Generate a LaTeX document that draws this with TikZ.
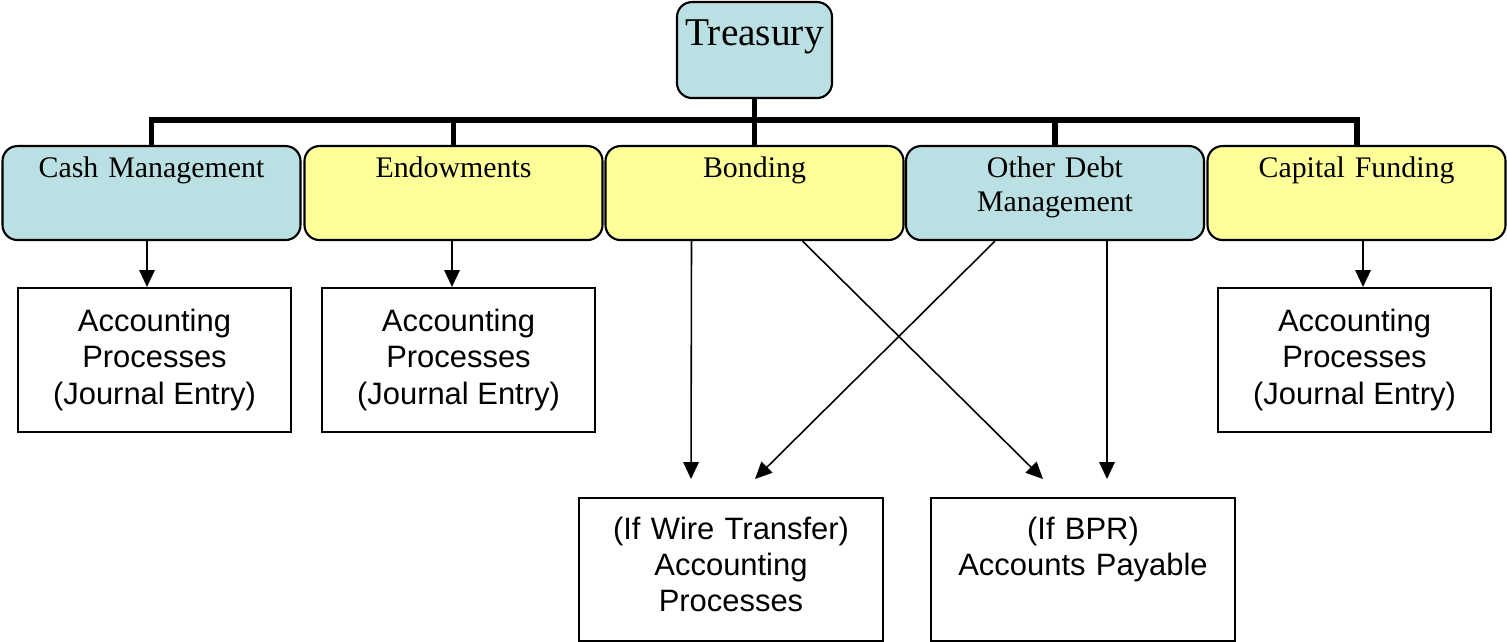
\documentclass[tikz,border=0pt]{standalone}
\usepackage{fontspec}
\setmainfont{Liberation Serif}
\newfontfamily\arialfont{Liberation Sans}
\usetikzlibrary{arrows.meta}

\definecolor{unitblue}{RGB}{186,224,227}
\definecolor{unityellow}{RGB}{255,255,153}

\begin{document}
\begin{tikzpicture}
[
head/.style={
% The shape:
rectangle,
rounded corners=0.15cm,
% The size:
minimum width=1.55cm,
inner sep=0pt,
text height=0.43cm, % text sits near the top
text depth=0.53cm,
% The border:
draw=black,
line width=0.6pt,
% The filling:
fill=unitblue,
font=\fontsize{11.2}{13}\selectfont
},
unit/.style={
% The shape:
rectangle,
rounded corners=0.15cm,
% The size:
text width=2.98cm,
inner sep=0pt,
text height=0.31cm,
text depth=0.63cm,
align=center,
% The border:
draw=black,
line width=0.6pt,
font=\fontsize{8.5}{9.7}\selectfont
},
process/.style={
% The shape:
rectangle,
% The size:
minimum width=2.73cm,
minimum height=1.44cm,
inner sep=0pt,
align=center,
% The border:
draw=black,
line width=0.6pt,
font=\arialfont\fontsize{8.8}{10.3}\selectfont
},
outcome/.style={
% The shape:
rectangle,
% The size:
text width=3.04cm,
inner sep=0pt,
text height=0.41cm,
text depth=1.02cm,
align=center,
% The border:
draw=black,
line width=0.6pt,
font=\arialfont\fontsize{8.8}{10.3}\selectfont
},
link/.style={-{Triangle[length=4.8pt,width=4.4pt]}, line width=0.45pt},
bus/.style={line width=1.7pt, line join=miter}
]
    \useasboundingbox (0,0) rectangle (15.07,-6.42);

    \node[head, anchor=north] (treasury) at (7.545,-0.01) {Treasury};

    \node[unit, anchor=north, fill=unitblue] (cash) at (1.515,-1.45) {Cash Management};
    \node[unit, anchor=north, fill=unityellow] (endow) at (4.535,-1.45) {Endowments};
    \node[unit, anchor=north, fill=unityellow] (bonding) at (7.545,-1.45) {Bonding};
    \node[unit, anchor=north, fill=unitblue] (debt) at (10.55,-1.45) {Other Debt\\Management};
    \node[unit, anchor=north, fill=unityellow] (capital) at (13.565,-1.45) {Capital Funding};

    \node[process] (jeA) at (1.545,-3.60) {Accounting\\Processes\\(Journal Entry)};
    \node[process] (jeB) at (4.585,-3.60) {Accounting\\Processes\\(Journal Entry)};
    \node[process] (jeC) at (13.545,-3.60) {Accounting\\Processes\\(Journal Entry)};

    \node[outcome, anchor=north] (wire) at (7.31,-4.97) {(If Wire Transfer)\\Accounting\\Processes};
    \node[outcome, anchor=north] (bpr) at (10.83,-4.97) {(If BPR)\\Accounts Payable};

    % bus from the top box to the five units
    \draw[bus] (treasury.south) -- (bonding.north);
    \draw[bus] (cash.north) -- ++(0,0.25) -| (capital.north);
    \draw[bus] (endow.north) -- ++(0,0.25);
    \draw[bus] (debt.north) -- ++(0,0.25);

    \draw[link] ([xshift=-0.045cm]cash.south) -- ([xshift=-0.075cm]jeA.north);
    \draw[link] ([xshift=-0.015cm]endow.south) -- ([xshift=-0.065cm]jeB.north);
    \draw[link] ([xshift=0.065cm]capital.south) -- ([xshift=0.085cm]jeC.north);

    \draw[link] ([xshift=-0.63cm]bonding.south) -- ([xshift=-0.40cm,yshift=0.18cm]wire.north);
    \draw[link] ([xshift=0.48cm]bonding.south) -- ([xshift=-0.40cm,yshift=0.18cm]bpr.north);
    \draw[link] ([xshift=-0.60cm]debt.south) -- ([xshift=0.24cm,yshift=0.18cm]wire.north);
    \draw[link] ([xshift=0.52cm]debt.south) -- ([xshift=0.24cm,yshift=0.18cm]bpr.north);
\end{tikzpicture}
\end{document}
